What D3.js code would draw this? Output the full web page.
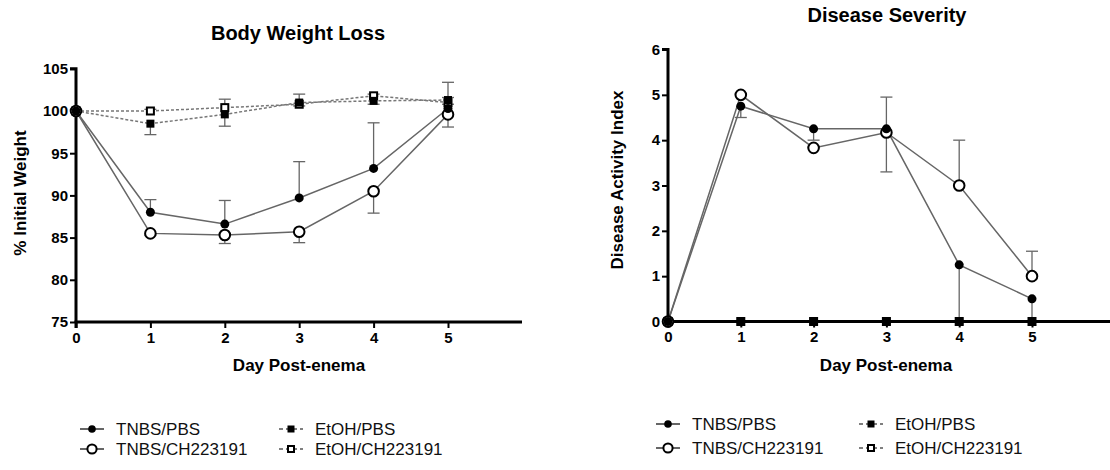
<!DOCTYPE html>
<html><head><meta charset="utf-8">
<script src="https://cdn.jsdelivr.net/npm/d3@7"></script>
<style>
body{margin:0;background:#fff;}
svg{display:block;font-family:"Liberation Sans",Arial,Helvetica,sans-serif;}
</style></head>
<body><svg id="c" width="1110" height="470"></svg>
<script>
const days = [0,1,2,3,4,5];
const xTicks = [0,1,2,3,4,5];
const seriesNames = ["TNBS/PBS","TNBS/CH223191","EtOH/PBS","EtOH/CH223191"];
const seriesMarkers = ["filledCircle","openCircle","filledSquare","openSquare"];
const seriesDashed = [false,false,true,true];

// Body weight (% initial)
const bwTicks = [75,80,85,90,95,100,105];
const bwTnbsPbs   = [100, 88.0, 86.6, 89.7, 93.2, 100.3];
const bwTnbsCh    = [100, 85.5, 85.3, 85.7, 90.5, 99.6];
const bwEtohPbs   = [100, 98.5, 99.6, 101.0, 101.2, 101.3];
const bwEtohCh    = [100, 100.0, 100.4, 100.8, 101.8, 101.0];
// error bar ends (cap value), null = none visible
const bwErrTnbsPbs = [null, 89.5, 89.4, 94.0, 98.6, 103.4];
const bwErrTnbsCh  = [null, 85.3, 84.3, 84.4, 87.9, 98.1];
const bwErrEtohPbs = [null, 97.2, 98.2, 100.6, 100.8, 100.8];
const bwErrEtohCh  = [null, 100.2, 101.4, 102.0, 102.0, 101.6];

// Disease activity index
const daiTicks = [0,1,2,3,4,5,6];
const daiTnbsPbs = [0, 4.75, 4.25, 4.25, 1.25, 0.5];
const daiTnbsCh  = [0, 5.0, 3.83, 4.17, 3.0, 1.0];
const daiEtohPbs = [0, 0, 0, 0, 0, 0];
const daiEtohCh  = [0, 0, 0, 0, 0, 0];
const daiErrTnbsPbs = [null, 4.5, 4.0, 4.95, 0, 0];
const daiErrTnbsCh  = [null, 5.0, 3.83, 3.3, 4.0, 1.55];
const daiErrEtohPbs = [null, null, null, null, null, null];
const daiErrEtohCh  = [null, null, null, null, null, null];

const svg = d3.select("#c");
const lineCol = "#666";

function drawMarker(g, type, cx, cy, r){
  if(type==="filledCircle") g.append("circle").attr("cx",cx).attr("cy",cy).attr("r",r).attr("fill","#000");
  else if(type==="openCircle") g.append("circle").attr("cx",cx).attr("cy",cy).attr("r",r+0.8).attr("fill","#fff").attr("stroke","#000").attr("stroke-width",2);
  else if(type==="filledSquare") g.append("rect").attr("x",cx-r).attr("y",cy-r).attr("width",2*r).attr("height",2*r).attr("fill","#000");
  else g.append("rect").attr("x",cx-r+0.5).attr("y",cy-r+0.5).attr("width",2*r-1).attr("height",2*r-1).attr("fill","#fff").attr("stroke","#000").attr("stroke-width",2);
}

function panel(opt){
  const g = svg.append("g");
  const x = d3.scaleLinear().domain([0,6]).range([opt.x0, opt.x1]);
  const y = d3.scaleLinear().domain(opt.yDomain).range([opt.yBottom, opt.yTop]);
  // error bars
  opt.series.forEach(s=>{
    s.err.forEach((e,i)=>{
      if(e===null) return;
      const cx = x(days[i]);
      g.append("line").attr("x1",cx).attr("x2",cx).attr("y1",y(s.vals[i])).attr("y2",y(e))
        .attr("stroke",lineCol).attr("stroke-width",1.3);
      g.append("line").attr("x1",cx-6).attr("x2",cx+6).attr("y1",y(e)).attr("y2",y(e))
        .attr("stroke",lineCol).attr("stroke-width",1.3);
    });
  });
  // lines
  opt.series.forEach((s,k)=>{
    g.append("path").datum(s.vals)
      .attr("d", d3.line().x((d,i)=>x(days[i])).y(d=>y(d)))
      .attr("fill","none").attr("stroke", seriesDashed[k]?"#777":lineCol)
      .attr("stroke-width",1.5)
      .attr("stroke-dasharray", seriesDashed[k]?"3,2":null);
  });
  // axes
  const ya = g.append("g").attr("transform",`translate(${opt.x0},0)`)
    .call(d3.axisLeft(y).tickValues(opt.yTicks).tickFormat(d3.format("d")).tickSize(6).tickPadding(2));
  const xa = g.append("g").attr("transform",`translate(0,${opt.yBottom})`)
    .call(d3.axisBottom(x).tickValues(xTicks).tickFormat(d3.format("d")).tickSize(6).tickPadding(4));
  [ya,xa].forEach(a=>{
    a.select(".domain").attr("stroke","#000").attr("stroke-width",3);
    a.selectAll(".tick line").attr("stroke","#000").attr("stroke-width",2);
    a.selectAll(".tick text").attr("fill","#000").attr("font-size",15).attr("font-weight","bold")
      .attr("font-family","Liberation Sans, Arial, sans-serif");
  });
  ya.select(".domain").attr("d",`M-6,${opt.yTop}H0V${opt.yBottom}`);
  xa.select(".domain").attr("d",`M${opt.x0},6V0H${opt.xAxisEnd}`);
  // markers (draw in reverse so TNBS on top)
  [3,2,1,0].forEach(k=>{
    const s = opt.series[k];
    s.vals.forEach((v,i)=>drawMarker(g, seriesMarkers[k], x(days[i]), y(v), k<2?4.5:4));
  });
  // titles
  g.append("text").attr("x",opt.titleX).attr("y",opt.titleY).attr("text-anchor","middle")
    .attr("font-size",20).attr("font-weight","bold").text(opt.title);
  g.append("text").attr("x",opt.xLabelX).attr("y",opt.yBottom+49).attr("text-anchor","middle")
    .attr("font-size",17).attr("font-weight","bold").text("Day Post-enema");
  g.append("text").attr("transform",`translate(${opt.yLabelX},${opt.yLabelY}) rotate(-90)`)
    .attr("text-anchor","middle").attr("font-size",17).attr("font-weight","bold").text(opt.yLabel);
  // legend
  const lg = g.append("g");
  seriesNames.forEach((name,k)=>{
    const col = k<2?0:1, row = k%2;
    const mx = opt.legX[col], my = opt.legY[row];
    lg.append("line").attr("x1",mx-12).attr("x2",mx+12).attr("y1",my).attr("y2",my)
      .attr("stroke","#000").attr("stroke-width",1.2).attr("stroke-dasharray", seriesDashed[k]?"4,3":null);
    drawMarker(lg, seriesMarkers[k], mx, my, k<2?3.8:3.5);
    lg.append("text").attr("x",mx+24).attr("y",my+6).attr("font-size",17).attr("fill","#111").text(name);
  });
}

panel({
  x0:76, x1:522.4, xAxisEnd:522, yTop:68.8, yBottom:322, yDomain:[75,105], yTicks:bwTicks,
  series:[{vals:bwTnbsPbs,err:bwErrTnbsPbs},{vals:bwTnbsCh,err:bwErrTnbsCh},{vals:bwEtohPbs,err:bwErrEtohPbs},{vals:bwEtohCh,err:bwErrEtohCh}],
  title:"Body Weight Loss", titleX:298, titleY:40, xLabelX:299, yLabel:"% Initial Weight", yLabelX:26, yLabelY:193,
  legX:[92,291], legY:[429,449]
});
panel({
  x0:668, x1:1104.8, xAxisEnd:1110, yTop:49.5, yBottom:321.5, yDomain:[0,6], yTicks:daiTicks,
  series:[{vals:daiTnbsPbs,err:daiErrTnbsPbs},{vals:daiTnbsCh,err:daiErrTnbsCh},{vals:daiEtohPbs,err:daiErrEtohPbs},{vals:daiEtohCh,err:daiErrEtohCh}],
  title:"Disease Severity", titleX:887, titleY:22, xLabelX:886, yLabel:"Disease Activity Index", yLabelX:623, yLabelY:180,
  legX:[668,871], legY:[424,448]
});
</script></body></html>
